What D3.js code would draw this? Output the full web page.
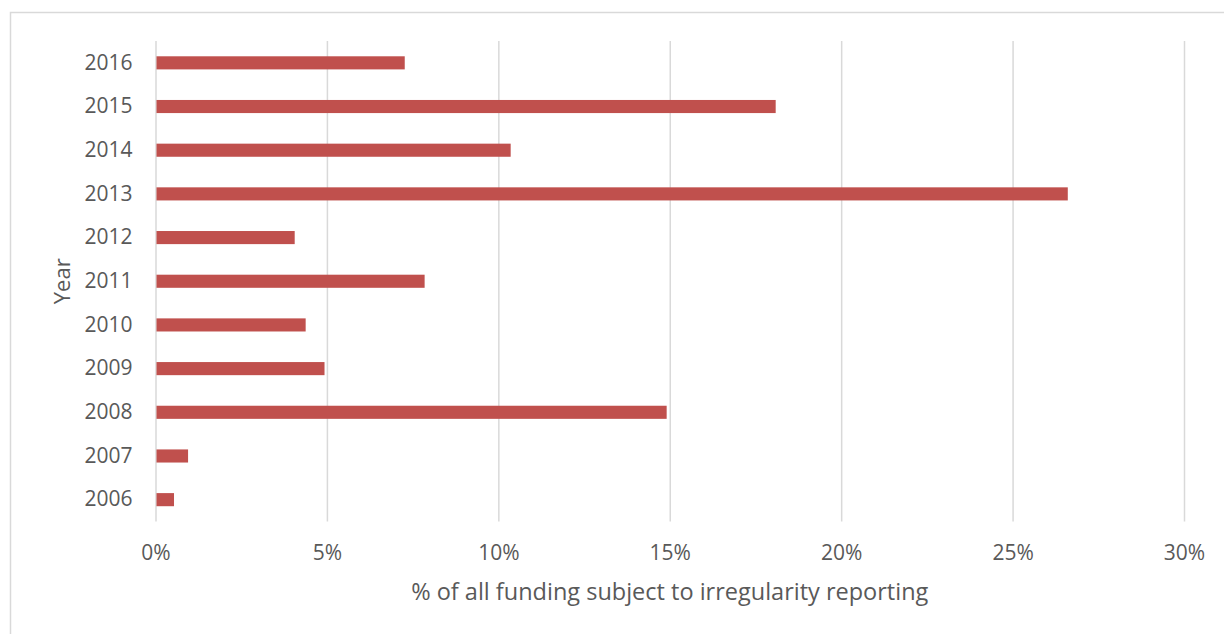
<!DOCTYPE html>
<html>
<head>
<meta charset="utf-8">
<script src="https://cdn.jsdelivr.net/npm/d3@7"></script>
<style>
  body { margin: 0; background: #fff; }
  text { font-family: "Open Sans", sans-serif; fill: #595959; }
</style>
</head>
<body>
<div id="chart"></div>
<script>
// data
var years = ['2016', '2015', '2014', '2013', '2012', '2011', '2010', '2009', '2008', '2007', '2006'];
var shares = [7.27, 18.09, 10.36, 26.61, 4.06, 7.85, 4.38, 4.93, 14.91, 0.95, 0.54];
var tickValues = [0, 5, 10, 15, 20, 25, 30];

var w = 1224;
var h = 634;
var plotL = 155.5, plotR = 1184, plotT = 41, plotB = 521.5;

var svg = d3.select('#chart')
  .append('svg')
    .attr('width', w)
    .attr('height', h);

// outer frame
svg.append('rect')
  .attr('x', 10.5)
  .attr('y', 12.5)
  .attr('width', 1230)
  .attr('height', 640)
  .attr('fill', 'none')
  .attr('stroke', '#d9d9d9')
  .attr('stroke-width', 1.5);

var xScale = d3.scaleLinear()
  .domain([0, 30])
  .range([plotL, plotR]);

var yScale = d3.scaleBand()
  .domain(years)
  .range([plotT, plotB])
  .paddingInner(0.7)
  .paddingOuter(0.35);

// gridlines + tick labels
var grid = d3.axisBottom(xScale)
  .tickValues(tickValues)
  .tickSize(-(plotB - plotT))
  .tickFormat(d => d + '%')
  .tickPadding(24);

var gx = svg.append('g')
  .attr('transform', 'translate(0,' + plotB + ')')
  .call(grid);
gx.select('.domain').remove();
gx.selectAll('line').attr('stroke', '#d9d9d9').attr('stroke-width', 1.5);
gx.selectAll('text')
  .style('font-size', '21px')
  .style('fill', '#595959');

svg.selectAll('.bar')
  .data(years)
  .enter()
  .append('rect')
    .attr('class', 'bar')
    .attr('x', xScale(0) + 1)
    .attr('y', d => yScale(d))
    .attr('width', (d, i) => xScale(shares[i]) - xScale(0) - 1)
    .attr('height', yScale.bandwidth())
    .attr('fill', '#c0504d');

var gy = svg.append('g')
  .attr('transform', 'translate(' + plotL + ',0)')
  .call(d3.axisLeft(yScale).tickSize(0).tickPadding(23));
gy.select('.domain').remove();
gy.selectAll('text')
  .style('font-size', '21px')
  .style('fill', '#595959');

svg.append('text')
  .attr('x', (plotL + plotR) / 2)
  .attr('y', 600)
  .attr('text-anchor', 'middle')
  .style('font-size', '23.5px')
  .text('% of all funding subject to irregularity reporting');

svg.append('text')
  .attr('transform', 'translate(70,' + ((plotT + plotB) / 2) + ') rotate(-90)')
  .attr('text-anchor', 'middle')
  .style('font-size', '22px')
  .text('Year');
</script>
</body>
</html>
